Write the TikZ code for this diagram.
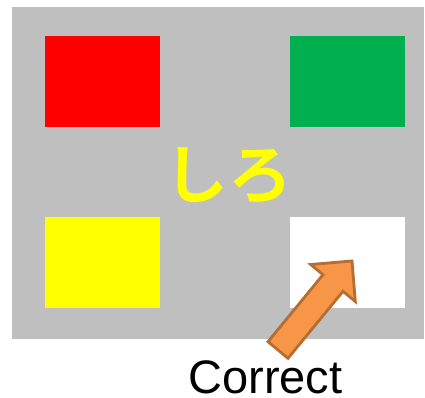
\documentclass[tikz,border=0pt]{standalone}
\usepackage{fontspec}
\setmainfont{Liberation Sans}
\newfontfamily\cjk{Noto Sans CJK JP}[BoldFont={* Bold}]
\definecolor{bggray}{HTML}{BFBFBF}
\definecolor{redbox}{HTML}{FF0000}
\definecolor{greenbox}{HTML}{00B050}
\definecolor{yellowbox}{HTML}{FFFF00}
\definecolor{arrowfill}{HTML}{F79646}
\definecolor{arrowline}{HTML}{B66D31}
\begin{document}
\begin{tikzpicture}[x=1pt,y=-1pt,
  box/.style={draw=none,fill=#1,inner sep=0pt,minimum width=115pt,minimum height=91pt,anchor=north west}]
\useasboundingbox (0,0) rectangle (425,398);
\fill[bggray] (12,7) rectangle (424,339);
\node[box=redbox] (red) at (45,36) {};
\node[box=greenbox] (green) at (290,36) {};
\node[box=yellowbox] (yellow) at (45,217) {};
\node[box=white] (white) at (290,217) {};
\node[text=yellowbox,font=\cjk\bfseries\fontsize{64}{64}\selectfont,anchor=base,inner sep=0pt] (label) at (228,198) {しろ};
\coordinate (t1) at (268,341.7);
\coordinate (j1) at (323,274.7);
\coordinate (b1) at (310.7,264.5);
\coordinate (tip) at (352,261);
\coordinate (b2) at (355.3,301.5);
\coordinate (j2) at (343,291.3);
\coordinate (t2) at (288,358.3);
\draw[fill=arrowfill,draw=arrowline,line width=2.8pt,line join=miter] (t1) -- (j1) -- (b1) -- (tip) -- (b2) -- (j2) -- (t2) -- cycle;
\node[font=\fontsize{47}{47}\selectfont,anchor=base,inner sep=0pt,text depth=0pt] (correct) at (265.5,393.5) {Correct};
\end{tikzpicture}
\end{document}
